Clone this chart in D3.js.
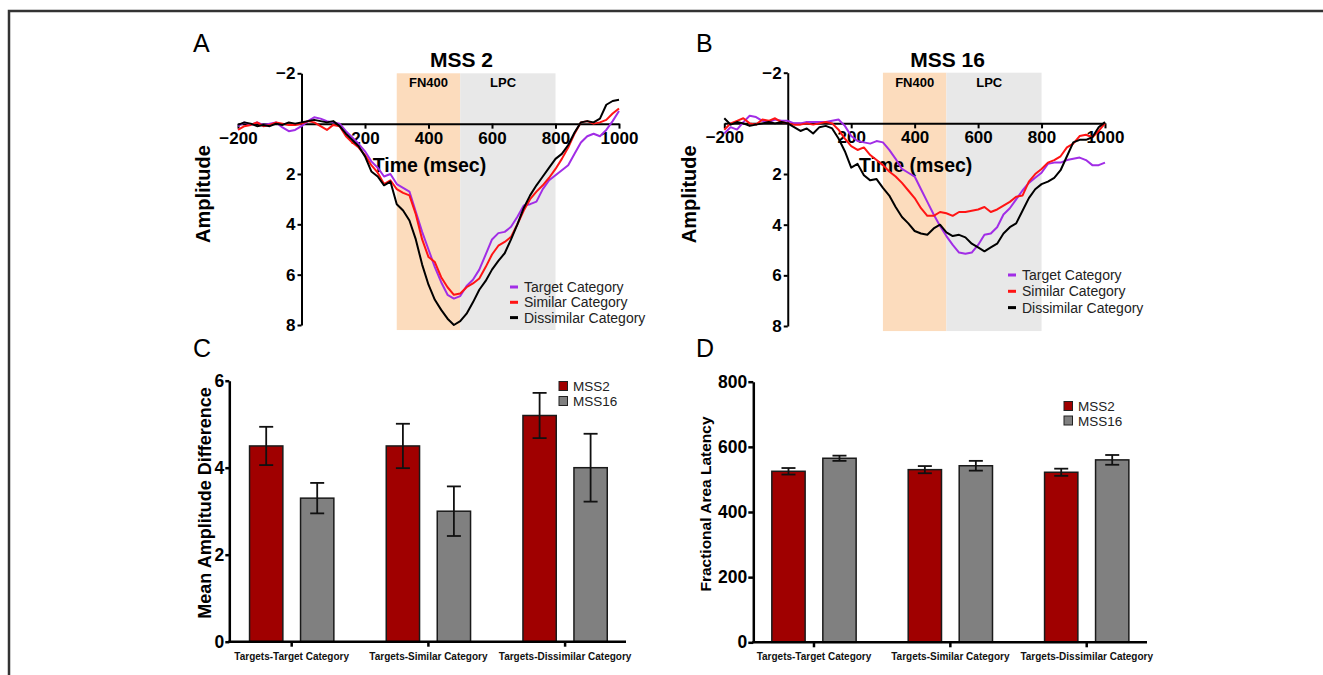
<!DOCTYPE html>
<html>
<head>
<meta charset="utf-8">
<script src="https://cdn.jsdelivr.net/npm/d3@7"></script>
<style>
  body { margin: 0; background: #fff; }
  svg { display: block; font-family: "Liberation Sans", Arial, sans-serif; }
</style>
</head>
<body>
<div id="figure"></div>
<script>
// ERP waveform data (amplitude, positive plotted downward)
var erpTimes = [-200, -180, -160, -140, -120, -100, -80, -60, -40, -20,
  0, 20, 40, 60, 80, 100, 120, 140, 160, 180,
  200, 220, 240, 260, 280, 300, 320, 340, 360, 380,
  400, 420, 440, 460, 480, 500, 520, 540, 560, 580,
  600, 620, 640, 660, 680, 700, 720, 740, 760, 780,
  800, 820, 840, 860, 880, 900, 920, 940, 960, 980, 1000];

var targetMss2 = [0.1, -0.05, 0.05, -0.05, 0.05, 0.0, -0.05, 0.15, 0.3, 0.25,
  0.1, -0.1, -0.25, -0.2, -0.1, -0.05, 0.0, 0.3, 0.55, 0.8,
  1.1, 1.5, 1.75, 2.1, 2.0, 2.4, 2.55, 2.7, 3.5, 4.3,
  5.0, 5.7, 6.3, 6.8, 6.95, 6.85, 6.45, 6.2, 5.8, 5.2,
  4.6, 4.35, 4.3, 4.1, 3.7, 3.25, 3.2, 3.1, 2.6, 2.25,
  2.05, 1.85, 1.65, 1.2, 0.75, 0.5, 0.4, 0.5, 0.25, -0.1, -0.5];
var similarMss2 = [0.25, 0.1, 0.05, -0.05, 0.1, 0.05, -0.05, 0.0, 0.05, 0.05,
  0.0, -0.1, -0.05, 0.1, 0.25, 0.05, 0.1, 0.5, 0.75, 0.95,
  1.25, 1.65, 1.95, 2.4, 2.25, 2.6, 2.75, 2.85, 3.6, 4.6,
  5.3, 5.5, 6.1, 6.5, 6.8, 6.75, 6.5, 6.35, 6.15, 5.7,
  5.2, 4.85, 4.7, 4.5, 4.0, 3.45, 3.0, 2.7, 2.45, 2.15,
  1.8, 1.4, 0.95, 0.4, -0.05, -0.1, 0.0, -0.05, -0.15, -0.4, -0.6];
var dissimilarMss2 = [0.05, -0.05, 0.0, 0.1, 0.05, 0.1, 0.0, 0.05, -0.05, 0.0,
  -0.05, -0.1, -0.15, -0.1, -0.05, -0.1, 0.1, 0.4, 0.65, 0.9,
  1.3, 1.9, 2.1, 2.45, 2.3, 3.2, 3.45, 3.85, 4.6, 5.6,
  6.4, 7.0, 7.4, 7.75, 8.0, 7.85, 7.55, 7.1, 6.6, 6.25,
  5.8, 5.45, 5.15, 4.6, 4.0, 3.35, 2.85, 2.45, 2.1, 1.75,
  1.4, 1.2, 0.85, 0.35, -0.05, -0.1, -0.05, -0.2, -0.75, -0.9, -0.95];

var targetMss16 = [0.4, 0.15, 0.25, -0.05, -0.3, -0.25, -0.1, -0.05, -0.15, -0.1,
  -0.1, 0.0, 0.0, -0.05, -0.05, -0.05, -0.05, -0.1, -0.15, 0.1,
  0.5, 0.7, 0.75, 0.8, 0.7, 0.75, 1.05, 1.4, 1.8, 1.95,
  2.1, 2.6, 3.1, 3.6, 4.05, 4.45, 4.8, 5.1, 5.15, 5.1,
  4.8, 4.4, 4.35, 4.1, 3.6, 3.35, 3.0, 2.65, 2.35, 2.15,
  1.95, 1.6, 1.55, 1.55, 1.45, 1.4, 1.35, 1.45, 1.65, 1.65, 1.55];
var similarMss16 = [0.25, 0.0, -0.1, -0.2, 0.0, 0.05, -0.15, -0.1, -0.2, -0.05,
  0.0, 0.05, 0.05, 0.0, 0.05, 0.0, -0.05, 0.0, 0.25, 0.6,
  0.9, 1.05, 0.95, 1.25, 1.45, 1.65, 1.9, 2.1, 2.35, 2.65,
  2.95, 3.35, 3.65, 3.65, 3.5, 3.55, 3.65, 3.5, 3.5, 3.45,
  3.4, 3.3, 3.5, 3.4, 3.25, 3.1, 2.9, 2.85, 2.3, 2.0,
  1.8, 1.55, 1.45, 1.3, 0.95, 0.8, 0.5, 0.45, 0.55, 0.3, 0.0];
var dissimilarMss16 = [-0.2, 0.05, -0.05, 0.0, 0.1, 0.05, 0.0, -0.05, 0.0, -0.05,
  0.0, 0.15, 0.3, 0.2, 0.4, 0.15, 0.1, 0.2, 0.6, 1.1,
  1.75, 1.6, 2.05, 2.25, 2.2, 2.55, 2.85, 3.3, 3.7, 3.95,
  4.25, 4.35, 4.4, 4.15, 4.0, 4.3, 4.45, 4.4, 4.5, 4.75,
  4.9, 5.05, 4.9, 4.75, 4.35, 4.1, 3.95, 3.45, 2.95, 2.6,
  2.4, 2.3, 2.15, 1.85, 1.3, 0.75, 0.65, 0.65, 0.55, 0.15, -0.05];

var erpSeriesNames = ["Target Category", "Similar Category", "Dissimilar Category"];
var erpColors = ["#a12de6", "#ff1414", "#000000"];
var erpYTicks = [-2, 2, 4, 6, 8];
var erpXTicks = [-200, 200, 400, 600, 800, 1000];

// bar chart data
var categories = ["Targets-Target Category", "Targets-Similar Category", "Targets-Dissimilar Category"];
var groups = ["MSS2", "MSS16"];
var groupColors = ["#a00000", "#808080"];

var ampMss2 = [4.5, 4.5, 5.2];
var ampMss2Err = [0.44, 0.51, 0.52];
var ampMss16 = [3.3, 3.0, 4.0];
var ampMss16Err = [0.35, 0.57, 0.78];

var latMss2 = [525, 530, 522];
var latMss2Err = [10, 11, 11];
var latMss16 = [565, 542, 560];
var latMss16Err = [8, 15, 15];

var intFmt = d3.format("d");

var svg = d3.select("#figure").append("svg")
  .attr("width", 1323)
  .attr("height", 675);

// frame of the figure
svg.append("rect")
  .attr("x", 9).attr("y", 11)
  .attr("width", 1400).attr("height", 700)
  .attr("fill", "none")
  .attr("stroke", "#333")
  .attr("stroke-width", 2.5);

function panelLetter(txt, x, y) {
  svg.append("text")
    .attr("x", x).attr("y", y)
    .attr("font-size", 25)
    .text(txt);
}

// ERP panel
function drawErp(cfg) {
  var x = d3.scaleLinear().domain([-200, 1000]).range(cfg.xRange);
  var y = d3.scaleLinear().domain([-2, 8]).range(cfg.yRange);
  var g = svg.append("g");

  // time windows
  g.append("rect")
    .attr("x", x(300)).attr("width", x(500) - x(300))
    .attr("y", y(-2)).attr("height", y(8.2) - y(-2))
    .attr("fill", "#fcdcbd");
  g.append("rect")
    .attr("x", x(500)).attr("width", x(800) - x(500))
    .attr("y", y(-2)).attr("height", y(8.2) - y(-2))
    .attr("fill", "#e8e8e8");

  g.append("text").attr("x", x(400)).attr("y", cfg.winLabelY)
    .attr("text-anchor", "middle").attr("font-size", 13).attr("font-weight", "bold")
    .text("FN400");
  g.append("text").attr("x", x(635)).attr("y", cfg.winLabelY)
    .attr("text-anchor", "middle").attr("font-size", 13).attr("font-weight", "bold")
    .text("LPC");

  // axes crossing at zero
  var xAxis = g.append("g")
    .attr("transform", "translate(0," + y(0) + ")")
    .call(d3.axisBottom(x).tickValues(erpXTicks).tickFormat(intFmt)
      .tickSize(5).tickSizeOuter(0).tickPadding(3));
  var yAxis = g.append("g")
    .attr("transform", "translate(" + x(0) + ",0)")
    .call(d3.axisLeft(y).tickValues(erpYTicks).tickFormat(intFmt)
      .tickSize(4).tickSizeOuter(0).tickPadding(2));
  [xAxis, yAxis].forEach(function (a) {
    a.selectAll("path, line").attr("stroke", "#000").attr("stroke-width", 2);
    a.selectAll("text").attr("font-size", 17).attr("font-weight", "bold")
      .attr("fill", "#000").attr("font-family", "Liberation Sans, Arial, sans-serif");
  });

  g.append("text")
    .attr("x", cfg.titleX).attr("y", 67)
    .attr("text-anchor", "middle").attr("font-size", 21).attr("font-weight", "bold")
    .text(cfg.title);
  g.append("text")
    .attr("x", x(403)).attr("y", 171.5)
    .attr("text-anchor", "middle").attr("font-size", 19.5).attr("font-weight", "bold")
    .text("Time (msec)");
  g.append("text")
    .attr("transform", "translate(" + cfg.ampLabelX + "," + y(2.8) + ") rotate(-90)")
    .attr("text-anchor", "middle").attr("font-size", 20).attr("font-weight", "bold")
    .text("Amplitude");

  // waveforms
  var line = d3.line()
    .x(function (d, i) { return x(erpTimes[i]); })
    .y(function (d) { return y(d); });
  cfg.series.forEach(function (s, i) {
    g.append("path")
      .datum(s)
      .attr("d", line)
      .attr("fill", "none")
      .attr("stroke", erpColors[i])
      .attr("stroke-width", 2)
      .attr("stroke-linejoin", "round");
  });

  // legend
  erpSeriesNames.forEach(function (name, i) {
    var ly = cfg.legendY + i * cfg.legendStep;
    g.append("line")
      .attr("x1", cfg.legendX).attr("x2", cfg.legendX + 8)
      .attr("y1", ly).attr("y2", ly)
      .attr("stroke", erpColors[i]).attr("stroke-width", 3);
    g.append("text")
      .attr("x", cfg.legendX + 14).attr("y", ly + 5)
      .attr("font-size", 14).attr("fill", "#222")
      .text(name);
  });
}

// grouped bar panel
function drawBars(cfg) {
  var x0 = d3.scaleBand().domain(categories).range(cfg.xRange).padding(0);
  var x1 = d3.scaleBand().domain(groups).range([-42.15, 42.15]).paddingInner(0.347);
  var y = d3.scaleLinear().domain(cfg.yDomain).range(cfg.yRange);
  var g = svg.append("g");
  var axisX = cfg.axisX;

  var rows = [];
  categories.forEach(function (c, i) {
    rows.push({ cat: c, grp: groups[0], v: cfg.a[i], e: cfg.aErr[i], col: groupColors[0] });
    rows.push({ cat: c, grp: groups[1], v: cfg.b[i], e: cfg.bErr[i], col: groupColors[1] });
  });

  g.selectAll("rect.bar")
    .data(rows)
    .enter().append("rect")
    .attr("class", "bar")
    .attr("x", function (d) { return x0(d.cat) + x0.bandwidth() / 2 + x1(d.grp); })
    .attr("width", x1.bandwidth())
    .attr("y", function (d) { return y(d.v); })
    .attr("height", function (d) { return y(0) - y(d.v); })
    .attr("fill", function (d) { return d.col; })
    .attr("stroke", "#1a1a1a")
    .attr("stroke-width", 1.5);

  // error bars
  var eb = g.selectAll("g.err")
    .data(rows)
    .enter().append("g")
    .attr("class", "err")
    .attr("transform", function (d) {
      return "translate(" + (x0(d.cat) + x0.bandwidth() / 2 + x1(d.grp) + x1.bandwidth() / 2) + ",0)";
    });
  eb.append("line")
    .attr("y1", function (d) { return y(d.v - d.e); })
    .attr("y2", function (d) { return y(d.v + d.e); })
    .attr("stroke", "#111").attr("stroke-width", 1.8);
  [-1, 1].forEach(function (s) {
    eb.append("line")
      .attr("x1", -7).attr("x2", 7)
      .attr("y1", function (d) { return y(d.v + s * d.e); })
      .attr("y2", function (d) { return y(d.v + s * d.e); })
      .attr("stroke", "#111").attr("stroke-width", 1.8);
  });

  // axes
  var yAxis = g.append("g")
    .attr("transform", "translate(" + axisX + ",0)")
    .call(d3.axisLeft(y).tickValues(cfg.yTicks).tickFormat(intFmt)
      .tickSize(cfg.yTickSize).tickSizeOuter(0).tickPadding(1));
  yAxis.selectAll("path, line").attr("stroke", "#000").attr("stroke-width", 2.5);
  yAxis.selectAll("text").attr("font-size", 17.5).attr("font-weight", "bold")
    .attr("fill", "#000").attr("font-family", "Liberation Sans, Arial, sans-serif");

  var xAxis = g.append("g")
    .attr("transform", "translate(0," + y(0) + ")")
    .call(d3.axisBottom(x0).tickSize(5).tickSizeOuter(0).tickPadding(6));
  xAxis.select(".domain").remove();
  xAxis.append("line")
    .attr("x1", axisX - 1).attr("x2", cfg.axisEnd)
    .attr("stroke", "#000").attr("stroke-width", 2.5);
  xAxis.selectAll(".tick line").attr("stroke", "#000").attr("stroke-width", 2.5);
  xAxis.selectAll("text").attr("font-size", 10).attr("font-weight", "bold")
    .attr("fill", "#111").attr("font-family", "Liberation Sans, Arial, sans-serif");

  g.append("text")
    .attr("transform", "translate(" + cfg.yLabelX + "," + cfg.yLabelY + ") rotate(-90)")
    .attr("text-anchor", "middle").attr("font-size", cfg.yLabelSize).attr("font-weight", "bold")
    .text(cfg.yLabel);

  // legend
  groups.forEach(function (name, i) {
    var ly = cfg.legendY + i * cfg.legendStep;
    g.append("rect")
      .attr("x", cfg.legendX).attr("y", ly - 4.5)
      .attr("width", 8.5).attr("height", 9)
      .attr("fill", groupColors[i]).attr("stroke", "#222").attr("stroke-width", 1);
    g.append("text")
      .attr("x", cfg.legendX + 14).attr("y", ly + 5)
      .attr("font-size", 13.5).attr("fill", "#222")
      .text(name);
  });
}

panelLetter("A", 193, 52);
panelLetter("B", 696, 52);
panelLetter("C", 193, 357);
panelLetter("D", 696, 357);

drawErp({
  xRange: [238, 619], yRange: [73.3, 325],
  series: [targetMss2, similarMss2, dissimilarMss2],
  title: "MSS 2", titleX: 461.5, winLabelY: 86.5, ampLabelX: 210,
  legendX: 510, legendY: 287, legendStep: 15.3
});
drawErp({
  xRange: [724.3, 1105], yRange: [72.7, 326],
  series: [targetMss16, similarMss16, dissimilarMss16],
  title: "MSS 16", titleX: 947.5, winLabelY: 87, ampLabelX: 696,
  legendX: 1008, legendY: 275, legendStep: 16.3
});

drawBars({
  xRange: [223.35, 633.45], yDomain: [0, 6], yRange: [641.7, 380.7],
  yTicks: [0, 2, 4, 6], yTickSize: 4, axisX: 229.3, axisEnd: 626,
  a: ampMss2, aErr: ampMss2Err, b: ampMss16, bErr: ampMss16Err,
  yLabel: "Mean Amplitude Difference", yLabelSize: 18, yLabelX: 211, yLabelY: 503,
  legendX: 559, legendY: 386, legendStep: 15
});
drawBars({
  xRange: [745.8, 1154.9], yDomain: [0, 800], yRange: [642.3, 381.7],
  yTicks: [0, 200, 400, 600, 800], yTickSize: 5, axisX: 753.3, axisEnd: 1147,
  a: latMss2, aErr: latMss2Err, b: latMss16, bErr: latMss16Err,
  yLabel: "Fractional Area Latency", yLabelSize: 15.5, yLabelX: 711, yLabelY: 504,
  legendX: 1064, legendY: 406, legendStep: 14.5
});
</script>
</body>
</html>
